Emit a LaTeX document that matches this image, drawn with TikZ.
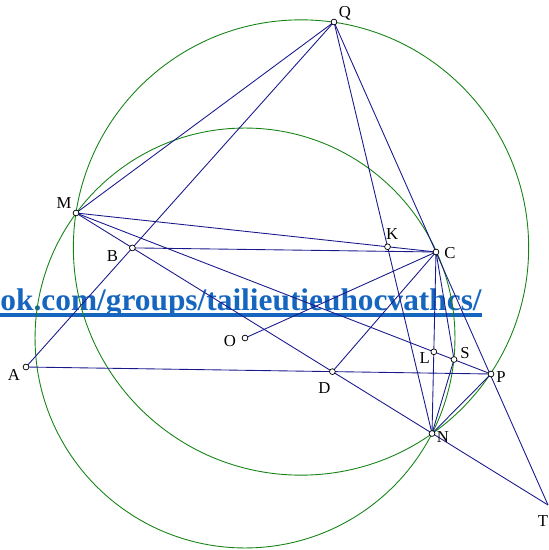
\documentclass[tikz,border=0pt]{standalone}
\usepackage{fontspec}
\setmainfont{Liberation Serif}
\usetikzlibrary{calc}
\definecolor{navyline}{RGB}{25,25,140}
\definecolor{greencirc}{RGB}{20,130,20}
\definecolor{linkblue}{RGB}{22,102,192}

\begin{document}
\begin{tikzpicture}[x=0.02cm,y=-0.02cm,
    seg/.style={draw=navyline,line width=0.5pt},
    circ/.style={draw=greencirc,line width=0.5pt},
    pnt/.style={circle,draw,fill=white,inner sep=0pt,minimum size=3.3pt,line width=0.4pt},
    lbl/.style={font=\fontsize{9.5}{9.5}\selectfont,inner sep=0pt}]
  \useasboundingbox (0,0) rectangle (548,550);
  % given points
  \coordinate (Q) at (334,22);
  \coordinate (M) at (76,213);
  \coordinate (A) at (26,367);
  \coordinate (T) at (548,505);
  \coordinate (C) at (436,252);
  \coordinate (N) at (432,433.5);
  \coordinate (P) at (491,374);
  \coordinate (O) at (245,338);
  \coordinate (S) at (454,359.5);
  \coordinate (Z) at (301,247.5);
  % intersections
  \coordinate (B) at (intersection of Q--A and M--T);
  \coordinate (K) at (intersection of Q--N and M--C);
  \coordinate (D) at (intersection of A--P and M--T);
  \coordinate (L) at (intersection of C--N and M--P);

  % watermark
  \node[anchor=base east,inner sep=0pt,text=linkblue,
    font=\fontsize{17.85}{17.85}\selectfont\bfseries] (wm) at (482,310)
    {ok.com/groups/tailieutieuhocvathcs/};
  \fill[linkblue] (0,312.5) rectangle (482,316.5);

  % circles
  \draw[circ] (O) circle[radius=4.2cm];
  \draw[circ] (Z) circle[radius=4.554cm];

  % lines
  \draw[seg] (Q) -- (M);
  \draw[seg] (Q) -- (A);
  \draw[seg] (Q) -- (N);
  \draw[seg] (Q) -- (T);
  \draw[seg] (M) -- (C);
  \draw[seg] (M) -- (P);
  \draw[seg] (M) -- (T);
  \draw[seg] (B) -- (C);
  \draw[seg] (A) -- (P);
  \draw[seg] (O) -- (C);
  \draw[seg] (D) -- (C);
  \draw[seg] (C) -- (N);
  \draw[seg] (C) -- (S) -- (N);
  \draw[seg] (N) -- (P);

  % points
  \foreach \p in {Q,M,A,B,K,C,O,D,L,S,P,N}
    \node[pnt] (pt\p) at (\p) {};

  % labels
  \node[lbl] (lQ) at ($(Q)+(11,-9)$) {Q};
  \node[lbl] (lM) at ($(M)+(-12,-10)$) {M};
  \node[lbl] (lB) at ($(B)+(-20,8)$) {B};
  \node[lbl] (lK) at ($(K)+(4.5,-13)$) {K};
  \node[lbl] (lC) at ($(C)+(14,1)$) {C};
  \node[lbl] (lO) at ($(O)+(-15,3)$) {O};
  \node[lbl] (lA) at ($(A)+(-12,8)$) {A};
  \node[lbl] (lD) at ($(D)+(-8,16)$) {D};
  \node[lbl] (lL) at ($(L)+(-9,6)$) {L};
  \node[lbl] (lS) at ($(S)+(11,-6)$) {S};
  \node[lbl] (lP) at ($(P)+(10,3)$) {P};
  \node[lbl] (lN) at ($(N)+(11,4)$) {N};
  \node[lbl] (lT) at (543,521) {T};
\end{tikzpicture}
\end{document}
